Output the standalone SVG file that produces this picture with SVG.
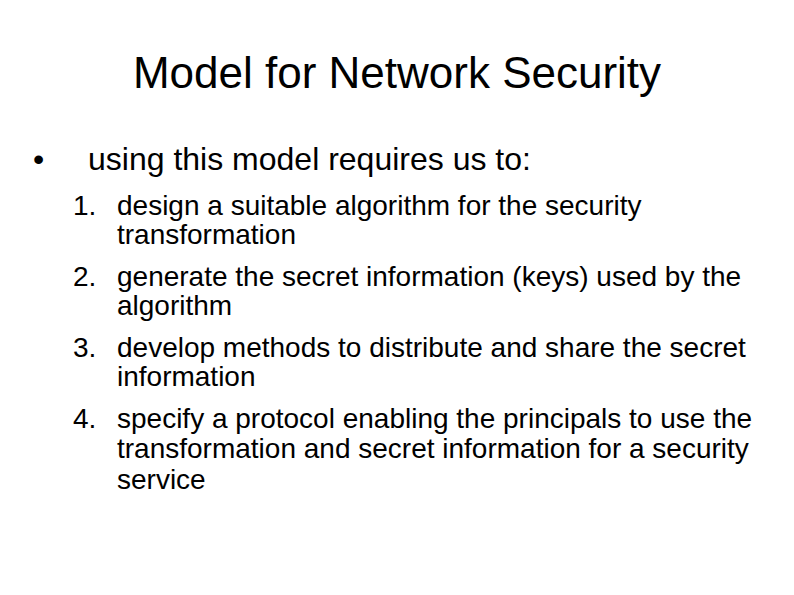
<svg xmlns="http://www.w3.org/2000/svg" width="794" height="595" viewBox="0 0 794 595">
<style>
text{font-family:"Liberation Sans",Arial,sans-serif;fill:#000}
.t{font-size:44px}
.b{font-size:32px}
.n{font-size:28px}
</style>
<rect width="794" height="595" fill="#fff"/>
<g id="title"><text class="t" x="397" y="88" text-anchor="middle">Model for Network Security</text></g>
<g id="bullet">
<text class="b" x="33" y="170">•</text>
<text class="b" x="88" y="170">using this model requires us to:</text>
</g>
<g id="list">
<text class="n" x="73" y="215">1.</text><text class="n" x="117" y="215">design a suitable algorithm for the security</text>
<text class="n" x="117" y="244">transformation</text>
<text class="n" x="73" y="286">2.</text><text class="n" x="117" y="286">generate the secret information (keys) used by the</text>
<text class="n" x="117" y="315">algorithm</text>
<text class="n" x="73" y="357">3.</text><text class="n" x="117" y="357">develop methods to distribute and share the secret</text>
<text class="n" x="117" y="386">information</text>
<text class="n" x="73" y="428">4.</text><text class="n" x="117" y="428">specify a protocol enabling the principals to use the</text>
<text class="n" x="117" y="458">transformation and secret information for a security</text>
<text class="n" x="117" y="489">service</text>
</g>
</svg>
